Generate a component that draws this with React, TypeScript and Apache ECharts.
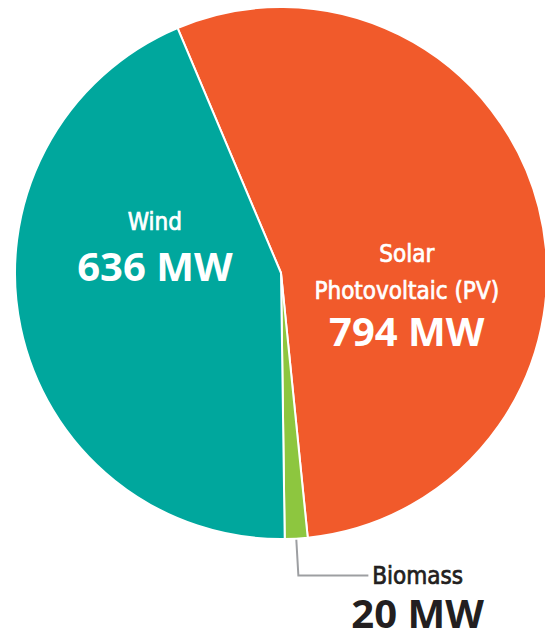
import React, { useEffect, useRef } from "react";
import * as echarts from "echarts";

const categories = ["Solar\nPhotovoltaic (PV)", "Biomass", "Wind"];
const values = [794, 20, 636];
const colors = ["#F15A2B", "#8DC63F", "#00A79D"];
const unit = "MW";

const NAME_FONT = '"Liberation Sans Narrow", "DejaVu Sans Condensed", "Open Sans", sans-serif';
const VALUE_FONT = '"Open Sans", "Noto Sans", sans-serif';

export default function App() {
  const ref = useRef<HTMLDivElement>(null);
  useEffect(() => {
    document.body.style.margin = "0";
    const chart = echarts.init(ref.current!, null, { renderer: "svg" });
    const insideOffsets: Record<number, { dx: number; dy: number }> = {
      0: { dx: -6, dy: 54 },
      2: { dx: 7, dy: -54 },
    };
    const valueLineHeights: Record<number, number> = { 0: 42, 2: 50 };
    const data = categories.map((name, i) => {
      const item: any = {
        name,
        value: values[i],
        itemStyle: { color: colors[i] },
      };
      if (name === "Biomass") {
        item.label = {
          position: "outside",
          distanceToLabelLine: -17,
          padding: [38, 0, 0, 0],
          rich: {
            n: {
              fontFamily: NAME_FONT, fontWeight: "normal", fontSize: 24, color: "#231F20",
              textBorderColor: "#231F20", textBorderWidth: 0.7, lineHeight: 36, align: "center",
            },
            v: { fontFamily: VALUE_FONT, fontWeight: "bold", fontSize: 40, color: "#231F20", lineHeight: 38, align: "center" },
          },
        };
        item.labelLine = {
          show: true,
          length: 37,
          length2: 70,
          smooth: false,
          lineStyle: { color: "#9D9FA2", width: 2 },
        };
      } else {
        item.label = {
          rich: {
            n: {
              fontFamily: NAME_FONT, fontWeight: "normal", fontSize: 24, color: "#ffffff",
              textBorderColor: "#ffffff", textBorderWidth: 0.7, lineHeight: 37,
            },
            v: { fontFamily: VALUE_FONT, fontWeight: "bold", fontSize: 40, color: "#ffffff", lineHeight: valueLineHeights[i] },
          },
        };
      }
      return item;
    });
    chart.setOption({
      animation: false,
      series: [
        {
          type: "pie",
          center: [281, 273],
          radius: 266,
          startAngle: 112.9,
          clockwise: true,
          avoidLabelOverlap: false,
          data,
          itemStyle: { borderColor: "#ffffff", borderWidth: 2 },
          emphasis: { disabled: true },
          label: {
            show: true,
            position: "inside",
            formatter: (p: any) => {
              const lines = String(p.name)
                .split("\n")
                .map((l: string) => `{n|${l}}`)
                .join("\n");
              return `${lines}\n{v|${p.value} ${unit}}`;
            },
          },
          labelLine: { show: false },
          labelLayout: (p: any) => insideOffsets[p.dataIndex] || {},
        },
      ],
    });
    return () => chart.dispose();
  }, []);
  return <div ref={ref} style={{ width: 545, height: 637 }} />;
}
